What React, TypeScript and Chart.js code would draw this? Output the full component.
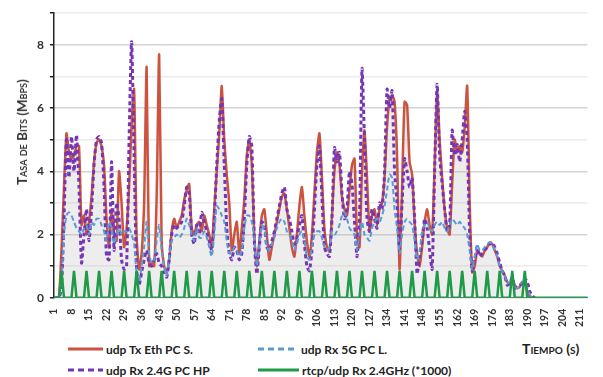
import React, { useEffect, useRef } from "react";
import Chart from "chart.js/auto";

const categories: string[] = Array.from({ length: 214 }, (_, i) => String(i + 1));

const udpTxEthPcS = [
  0, 0, 0, 1.5, 3.5, 5.2, 4.6, 4.4, 4.5, 4.8,
  4.8, 2.3, 2.6, 2.0, 2.4, 3.2, 4.3, 4.9, 5.0, 4.8,
  4.2, 2.5, 1.6, 2.8, 2.0, 1.8, 4.0, 3.0, 1.6, 2.2,
  3.5, 5.5, 6.6, 2.0, 0.9, 1.4, 3.0, 7.3, 1.0, 1.1,
  1.0, 3.2, 7.7, 1.8, 1.0, 0.8, 1.2, 2.1, 2.5, 2.2,
  2.4, 2.6, 3.1, 3.4, 3.6, 2.2, 2.0, 2.3, 2.4, 2.1,
  2.6, 2.3, 2.0, 1.6, 2.8, 4.0, 5.2, 6.7, 5.0, 3.9,
  3.0, 1.5, 2.0, 2.4, 1.4, 2.2, 3.1, 4.5, 5.0, 4.2,
  2.0, 1.0, 1.8, 2.6, 2.8, 2.0, 1.2, 1.6, 2.0, 2.4,
  2.8, 3.2, 3.3, 2.8, 2.2, 1.6, 1.3, 2.0, 2.9, 3.5,
  2.6, 1.8, 1.3, 2.0, 3.3, 4.6, 5.2, 3.8, 2.2, 1.6,
  1.5, 2.6, 4.0, 4.6, 4.2, 3.2, 2.8, 2.6, 3.4, 4.2,
  4.4, 2.0, 1.6, 4.0, 5.3, 3.8, 2.1, 2.6, 2.8, 2.3,
  2.8, 3.0, 3.8, 5.4, 6.3, 6.4, 6.2, 4.5, 0.9, 3.5,
  6.2, 6.1, 4.3, 3.9, 2.4, 1.4, 1.0, 1.6, 2.4, 2.8,
  2.3, 2.0, 4.2, 6.5, 5.0, 3.8, 2.8, 2.2, 2.0, 3.6,
  5.0, 4.6, 4.8, 4.6, 5.4, 6.7, 3.0, 0.8, 1.0, 1.5,
  1.4, 1.3, 1.5, 1.6, 1.75, 1.7, 1.5, 1.3, 1.0, 0.85,
  0.7, 0.5, 0.45, 0.6, 0.4, 0.3, 0.35, 0.5, 0.45, 0.2,
  0.0, 0, 0,
];

const udpRx5gPcL = [
  0, 0, 0, 0.5, 2.0, 2.6, 2.7, 2.6, 2.4, 2.2,
  2.1, 2.0, 2.2, 2.3, 2.0, 2.4, 2.3, 2.5, 2.5, 2.3,
  2.1, 1.8, 2.4, 2.2, 1.7, 2.0, 2.2, 2.0, 2.1, 2.1,
  2.2, 2.0, 1.7, 0.8, 0.5, 1.0, 1.6, 2.4, 1.4, 1.1,
  1.2, 1.8, 2.3, 1.5, 1.0, 0.7, 1.3, 1.8, 1.9, 2.0,
  1.9, 2.0, 2.2, 2.5, 2.3, 2.0, 1.8, 2.2, 1.9, 1.9,
  2.1, 1.9, 1.6, 1.3, 2.0, 2.9, 2.8, 2.6, 2.4, 1.8,
  1.4, 1.4, 1.6, 1.5, 1.3, 1.5, 2.2, 2.6, 2.6, 2.4,
  1.9, 1.0, 1.6, 2.3, 2.2, 1.6, 1.5, 1.7, 1.9, 2.2,
  2.4, 2.5, 2.4, 2.1, 2.0, 1.8, 1.5, 1.7, 2.0, 2.1,
  1.8, 1.3, 1.2, 1.6, 2.0, 2.1, 2.1, 1.9, 1.6, 1.5,
  1.6, 2.1, 2.0, 2.1, 2.3, 2.6, 2.7, 2.5, 2.2, 2.1,
  2.0, 1.5, 2.0, 2.4, 2.0, 1.9, 1.8, 2.2, 2.4, 2.5,
  2.4, 2.6, 2.9, 3.4, 3.9, 3.8, 2.8, 2.2, 1.4, 2.0,
  2.4, 2.5, 2.4, 2.3, 1.8, 1.2, 1.5, 2.1, 2.3, 2.4,
  2.2, 2.1, 2.3, 2.4, 2.3, 2.4, 2.2, 2.1, 2.3, 2.5,
  2.4, 2.3, 2.4, 2.3, 2.2, 2.0, 1.5, 0.9, 1.3, 1.7,
  1.5, 1.5, 1.6, 1.7, 1.75, 1.7, 1.5, 1.3, 1.0, 0.85,
  0.7, 0.45, 0.5, 0.6, 0.35, 0.3, 0.4, 0.5, 0.5, 0.3,
  0.1, 0, 0,
];

const udpRx24gPcHp = [
  0, 0, 0, 0.3, 2.5, 5.0, 3.8, 5.1, 4.0, 5.15,
  3.5, 1.1, 2.0, 2.8, 1.8, 2.8, 4.2, 5.0, 5.1, 4.9,
  3.5, 1.3, 1.2, 4.3, 1.5, 3.0, 2.5, 1.2, 0.9, 1.0,
  5.0, 8.1, 4.5, 0.9, 0.4, 0.8, 1.2, 1.5, 1.1, 1.0,
  1.2, 1.4, 1.1, 1.0, 0.8, 0.65, 1.2, 2.0, 2.3, 2.2,
  2.3, 2.4, 2.9, 3.5, 3.3, 2.0, 1.7, 2.3, 2.0, 2.7,
  2.4, 2.1, 1.8, 1.5, 2.5, 4.2, 5.6, 6.3, 4.2, 2.2,
  1.4, 1.2, 1.6, 1.5, 1.2, 1.4, 2.5, 4.2, 5.1, 4.8,
  1.8, 0.75, 1.6, 2.4, 2.3, 1.6, 1.5, 1.8, 2.1, 2.5,
  2.9, 3.3, 3.5, 2.8, 2.5, 2.1, 1.7, 1.9, 2.3, 2.6,
  1.7, 1.0, 0.85, 1.5, 2.8, 4.2, 4.8, 3.2, 1.6, 1.4,
  1.3, 2.5, 4.75, 4.3, 4.6, 3.3, 2.5, 2.8, 4.0, 3.6,
  2.4, 1.3, 2.5, 7.25, 5.0, 2.5, 2.1, 2.8, 2.5, 2.2,
  3.0, 2.8, 4.0, 6.6, 6.0, 6.55, 4.0, 3.0, 1.5, 3.0,
  4.4, 4.0, 3.5, 3.8, 2.5, 0.75, 1.3, 1.8, 2.5, 2.2,
  1.5, 0.9, 4.0, 6.75, 4.5, 3.6, 2.8, 2.1, 2.3, 5.3,
  4.5, 4.85, 4.3, 5.0, 5.9, 5.0, 2.0, 0.85, 1.2, 1.6,
  1.3, 1.4, 1.5, 1.6, 1.7, 1.75, 1.6, 1.4, 1.1, 0.85,
  0.7, 0.4, 0.45, 0.65, 0.3, 0.35, 0.4, 0.45, 0.6, 0.5,
  0.2, 0.05, 0,
];

const rtcpUdpRx24GHz = [
  0, 0, 0, 0.85, 0, 0, 0, 0, 0.85, 0, 0, 0, 0, 0.85, 0, 0, 0, 0, 0.85, 0, 0, 0, 0, 0.85, 0,
  0, 0, 0, 0.85, 0, 0, 0, 0, 0.85, 0, 0, 0, 0, 0.85, 0, 0, 0, 0, 0.85, 0, 0, 0, 0, 0.85, 0,
  0, 0, 0, 0.85, 0, 0, 0, 0, 0.85, 0, 0, 0, 0, 0.85, 0, 0, 0, 0, 0.85, 0, 0, 0, 0, 0.85, 0,
  0, 0, 0, 0.85, 0, 0, 0, 0, 0.85, 0, 0, 0, 0, 0.85, 0, 0, 0, 0, 0.85, 0, 0, 0, 0, 0.85, 0,
  0, 0, 0, 0.85, 0, 0, 0, 0, 0.85, 0, 0, 0, 0, 0.85, 0, 0, 0, 0, 0.85, 0, 0, 0, 0, 0.85, 0,
  0, 0, 0, 0.85, 0, 0, 0, 0, 0.85, 0, 0, 0, 0, 0.85, 0, 0, 0, 0, 0.85, 0, 0, 0, 0, 0.85, 0,
  0, 0, 0, 0.85, 0, 0, 0, 0, 0.85, 0, 0, 0, 0, 0.85, 0, 0, 0, 0, 0.85, 0, 0, 0, 0, 0.85, 0,
  0, 0, 0, 0.85, 0, 0, 0, 0, 0.85, 0, 0, 0, 0, 0.85, 0,
  0, 0, 0, 0, 0, 0, 0, 0, 0, 0, 0, 0, 0, 0, 0, 0, 0, 0, 0, 0, 0, 0, 0, 0,
];

const seriesNames = [
  "udp Tx Eth PC S.",
  "udp Rx 5G PC L.",
  "udp Rx 2.4G PC HP",
  "rtcp/udp Rx 2.4GHz (*1000)",
];
const yTickValues = [0, 2, 4, 6, 8];
const yTitle = "Tasa de Bits (Mbps)";
const xTitle = "Tiempo (s)";

const RED = "#CB5340";
const BLUE = "#5B9BD5";
const PURPLE = "#7436B5";
const GREEN = "#1F9A48";
const FONT = "Lato, 'Open Sans', sans-serif";

function LegendItem(props: { x: number; y: number; color: string; dash?: string; text: string; width: number }) {
  const { x, y, color, dash, text, width } = props;
  return (
    <div style={{ position: "absolute", left: x, top: y - 9, height: 18, display: "flex", alignItems: "center", whiteSpace: "nowrap" }}>
      <svg width={width} height={6} style={{ display: "block" }}>
        <line x1={0} y1={3} x2={width} y2={3} stroke={color} strokeWidth={3} strokeDasharray={dash} />
      </svg>
      <span style={{ marginLeft: 3, fontFamily: FONT, fontWeight: 700, fontSize: 12, color: "#222" }}>{text}</span>
    </div>
  );
}

export default function App() {
  const ref = useRef<HTMLCanvasElement>(null);
  useEffect(() => {
    const chart = new Chart(ref.current!, {
      type: "line",
      data: {
        labels: categories,
        datasets: [
          {
            label: seriesNames[0],
            data: udpTxEthPcS,
            borderColor: RED,
            backgroundColor: "rgba(175,175,175,0.22)",
            fill: "origin",
            borderWidth: 2.5,
            pointRadius: 0,
            tension: 0.2,
            order: 4,
          },
          {
            label: seriesNames[1],
            data: udpRx5gPcL,
            borderColor: BLUE,
            borderDash: [5, 3],
            borderWidth: 2,
            pointRadius: 0,
            tension: 0.2,
            fill: false,
            order: 2,
          },
          {
            label: seriesNames[2],
            data: udpRx24gPcHp,
            borderColor: PURPLE,
            borderDash: [4, 3],
            borderWidth: 3,
            pointRadius: 0,
            tension: 0.2,
            fill: false,
            order: 3,
          },
          {
            label: seriesNames[3],
            data: rtcpUdpRx24GHz,
            borderColor: GREEN,
            borderWidth: 2.5,
            pointRadius: 0,
            tension: 0,
            fill: false,
            order: 1,
          },
        ],
      },
      options: {
        animation: false,
        responsive: false,
        layout: { padding: { left: 31, right: 8, top: 10, bottom: 0 } },
        plugins: { legend: { display: false }, tooltip: { enabled: false } },
        scales: {
          x: {
            grid: { display: false },
            border: { display: true, color: "#777" },
            ticks: {
              autoSkip: false,
              maxRotation: 90,
              minRotation: 90,
              padding: 3,
              color: "#333",
              font: { family: FONT, size: 10.5, weight: "bold" },
              callback: (_v: any, i: number) => (i % 7 === 0 ? categories[i] : ""),
            },
          },
          y: {
            min: 0,
            max: 9,
            ticks: {
              stepSize: 1,
              padding: 6,
              color: "#333",
              font: { family: FONT, size: 12, weight: "bold" },
              callback: (v: any) => (yTickValues.includes(Number(v)) ? String(v) : ""),
            },
            grid: {
              color: (c: any) => (c.tick && c.tick.value % 2 === 0 ? "#d4d4d4" : "#ececec"),
              lineWidth: 1.5,
              tickLength: 4,
              tickColor: "#222",
            },
            border: { display: true, color: "#222", width: 1.5 },
          },
        },
      },
    });
    return () => chart.destroy();
  }, []);

  return (
    <div style={{ position: "fixed", left: 0, top: 0, width: 603, height: 377, background: "#fff", overflow: "hidden" }}>
      <canvas ref={ref} width={603} height={330} style={{ position: "absolute", left: 0, top: 0, width: 603, height: 330 }} />
      <div
        style={{
          position: "absolute",
          left: 22,
          top: 132,
          transform: "translate(-50%, -50%) rotate(-90deg)",
          whiteSpace: "nowrap",
          fontFamily: FONT,
          fontWeight: 700,
          fontSize: 13.5,
          fontVariant: "small-caps",
          color: "#333",
        }}
      >
        {yTitle}
      </div>
      <LegendItem x={68} y={349} color={RED} text={seriesNames[0]} width={35} />
      <LegendItem x={258} y={349} color={BLUE} dash="6 4" text={seriesNames[1]} width={40} />
      <LegendItem x={68} y={370} color={PURPLE} dash="6 4" text={seriesNames[2]} width={35} />
      <LegendItem x={258} y={370} color={GREEN} text={seriesNames[3]} width={41} />
      <div style={{ position: "absolute", left: 522, top: 340, fontFamily: FONT, fontWeight: 700, fontSize: 14, color: "#222", fontVariant: "small-caps" }}>
        {xTitle}
      </div>
    </div>
  );
}
